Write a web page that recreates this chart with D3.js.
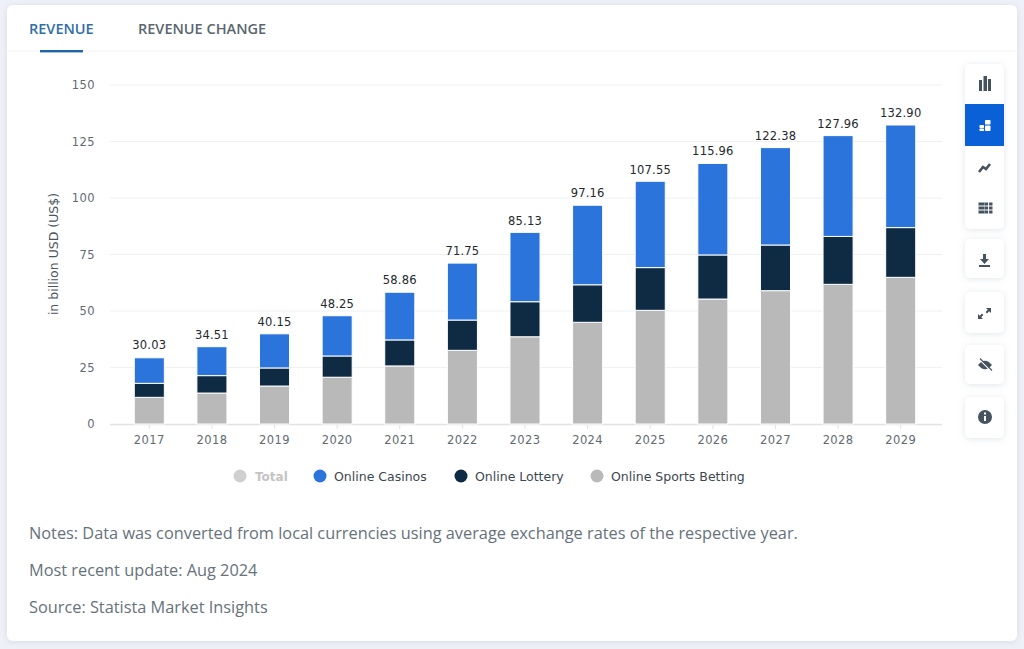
<!DOCTYPE html>
<html><head><meta charset="utf-8">
<script src="https://cdn.jsdelivr.net/npm/d3@7/dist/d3.min.js"></script>
<style>
html,body{margin:0;padding:0;background:#eef1f8;overflow:hidden}
svg{display:block}
</style></head><body><svg id="c" width="1024" height="649"></svg>
<script>
const years=["2017","2018","2019","2020","2021","2022","2023","2024","2025","2026","2027","2028","2029"];
const totals=[30.03,34.51,40.15,48.25,58.86,71.75,85.13,97.16,107.55,115.96,122.38,127.96,132.90];
const sports=[11.8,13.7,16.8,20.7,25.7,32.6,38.6,45,50.3,55.3,59,61.8,64.9];
const lottery=[6.2,7.7,8,9.4,11.5,13.4,15.5,16.6,18.9,19.5,20.2,21.2,22];
const casinos=[11.3,12.8,15.1,17.8,21.1,25.2,30.7,35.2,38.2,40.5,43.1,44.6,45.4];
const yTicks=[0,25,50,75,100,125,150];
const seriesNames=["Online Sports Betting","Online Lottery","Online Casinos"];
const seriesColors=["#b9b9b9","#0f2a43","#2a74dc"];
const legendItems=[["Total","#cfcfcf","#c4c4c4",240,255],["Online Casinos","#2a74dc","#3c4750",320,334],["Online Lottery","#0f2a43","#3c4750",461,475],["Online Sports Betting","#b9b9b9","#3c4750",597,611]];
const notes=["Notes: Data was converted from local currencies using average exchange rates of the respective year.","Most recent update: Aug 2024","Source: Statista Market Insights"];

const svg=d3.select("#c");
const chartFont="'DejaVu Sans',Verdana,sans-serif", uiFont="'Open Sans',sans-serif";

const defs=svg.append("defs");
const f=defs.append("filter").attr("id","sh").attr("x","-30%").attr("y","-30%").attr("width","160%").attr("height","160%");
f.append("feDropShadow").attr("dx",0).attr("dy",1).attr("stdDeviation",3).attr("flood-color","#8a97b0").attr("flood-opacity",.25);

svg.append("rect").attr("x",7).attr("y",5).attr("width",1010).attr("height",636).attr("rx",6).attr("fill","#fff").attr("filter","url(#sh)");

// tabs
svg.append("line").attr("x1",7).attr("x2",1017).attr("y1",51).attr("y2",51).attr("stroke","#f3f4f6");
svg.append("text").attr("x",29).attr("y",34).attr("font-family",uiFont).attr("font-size",14.5).attr("font-weight",600).attr("fill","#2f6fa8").text("REVENUE");
svg.append("text").attr("x",138).attr("y",34).attr("font-family",uiFont).attr("font-size",14.5).attr("font-weight",600).attr("fill","#5a6670").text("REVENUE CHANGE");
svg.append("rect").attr("x",40).attr("y",50).attr("width",43).attr("height",2.4).attr("fill","#1f63ad");

// scales
const x=d3.scaleBand().domain(years).range([118,932]).paddingInner(.52).paddingOuter(.26);
const y=d3.scaleLinear().domain([0,150]).range([424,85]);

// grid
svg.append("g").selectAll("line").data(yTicks.filter(d=>d>0)).join("line")
 .attr("x1",110).attr("x2",942).attr("y1",d=>y(d)).attr("y2",d=>y(d)).attr("stroke","#eef0f2").attr("stroke-width",1);

// axes
const gy=svg.append("g").attr("transform","translate(110,0)").call(d3.axisLeft(y).tickValues(yTicks).tickSize(0).tickPadding(15));
gy.select(".domain").remove();
gy.selectAll("text").attr("font-family",chartFont).attr("font-size",11.5).attr("fill","#5f6a72").attr("letter-spacing",.4);

const gx=svg.append("g").attr("transform","translate(0,424)").call(d3.axisBottom(x).tickSize(5).tickPadding(7));
gx.select(".domain").attr("d","M110,0.5H942").attr("stroke","#dfe3e7").attr("stroke-width",1.4);
gx.selectAll("line").attr("stroke","#dfe3e7");
gx.selectAll("text").attr("font-family",chartFont).attr("font-size",11.5).attr("fill","#5f6a72").attr("letter-spacing",.4);

svg.append("text").attr("transform","translate(58,254) rotate(-90)").attr("text-anchor","middle")
 .attr("font-family",chartFont).attr("font-size",12.5).attr("fill","#4a555e").text("in billion USD (US$)");

// stacks
const rows=years.map((yr,i)=>({year:yr,[seriesNames[0]]:sports[i],[seriesNames[1]]:lottery[i],[seriesNames[2]]:casinos[i]}));
const stack=d3.stack().keys(seriesNames)(rows);
svg.append("g").selectAll("g").data(stack).join("g").attr("fill",(d,i)=>seriesColors[i])
 .selectAll("rect").data(d=>d).join("rect")
 .attr("x",d=>x(d.data.year)).attr("width",x.bandwidth())
 .attr("y",d=>y(d[1])).attr("height",d=>y(d[0])-y(d[1]))
 .attr("stroke","#fff").attr("stroke-width",1);

// total labels
svg.append("g").selectAll("text").data(years).join("text")
 .attr("x",d=>x(d)+x.bandwidth()/2).attr("y",(d,i)=>y(totals[i])-7)
 .attr("text-anchor","middle").attr("font-family",chartFont).attr("font-size",11.5).attr("letter-spacing",.2).attr("fill","#23292e")
 .text((d,i)=>totals[i].toFixed(2));

// legend
const lg=svg.append("g").selectAll("g").data(legendItems).join("g");
lg.append("circle").attr("cx",d=>d[3]).attr("cy",476).attr("r",6.5).attr("fill",d=>d[1]);
lg.append("text").attr("x",d=>d[4]).attr("y",481).attr("font-family",chartFont).attr("font-size",d=>d[0]==="Total"?12:12.5).attr("fill",d=>d[2]).attr("font-weight",d=>d[0]==="Total"?"bold":"normal").text(d=>d[0]);

// notes
svg.append("g").selectAll("text").data(notes).join("text")
 .attr("x",29).attr("y",(d,i)=>539+i*37).attr("font-family",uiFont).attr("font-size",16.32).attr("fill","#66727c").text(d=>d);

// toolbar
const ink="#45535f";
const tb=svg.append("g");
[[64,165],[239,39],[292,41],[345,39],[397,41]].forEach(([t,h])=>{
  tb.append("rect").attr("x",965).attr("y",t).attr("width",39).attr("height",h).attr("rx",5).attr("fill","#fff").attr("filter","url(#sh)");
});
tb.append("rect").attr("x",965).attr("y",104).attr("width",39).attr("height",42).attr("fill","#0a60d6");
// bar icon
[[979,80,3,11],[983.5,76,3.5,15],[988,79,3,12]].forEach(r=>tb.append("rect").attr("x",r[0]).attr("y",r[1]).attr("width",r[2]).attr("height",r[3]).attr("fill",ink));
// stacked icon
[[979.5,125,4.5,3],[979.5,128.5,4.5,2.5],[985,120,5.5,4.5],[985,125.5,5.5,5.5]].forEach(r=>tb.append("rect").attr("x",r[0]).attr("y",r[1]).attr("width",r[2]).attr("height",r[3]).attr("rx",.7).attr("fill","#fff"));
// trend icon
tb.append("path").attr("d","M979 172L983 167L986 169L990 164").attr("fill","none").attr("stroke",ink).attr("stroke-width",2.6);
// table icon
[0,1,2].forEach(r=>[0,1,2].forEach(c=>{tb.append("rect").attr("x",978.5+c*4.4+(c?1.8:0)).attr("y",202.5+r*4).attr("width",c===0?6:3.4).attr("height",3).attr("fill",ink);}));
// download icon
tb.append("path").attr("d","M983 254h3v5h3l-4.5 5l-4.5-5h3z").attr("fill",ink);
tb.append("rect").attr("x",979).attr("y",265).attr("width",11).attr("height",2).attr("fill",ink);
// expand icon
tb.append("path").attr("d","M986 308h5v5l-1.8-1.8l-2.2 2.2l-1.4-1.4l2.2-2.2zM983 319h-5v-5l1.8 1.8l2.2-2.2l1.4 1.4l-2.2 2.2z").attr("fill",ink);
// eye-off icon
tb.append("path").attr("d","M978 365q7-8.500 14 0q-7 8.500-14 0z").attr("fill",ink);
tb.append("line").attr("x1",979).attr("y1",359).attr("x2",991).attr("y2",371).attr("stroke","#fff").attr("stroke-width",1.2);
tb.append("line").attr("x1",980).attr("y1",358.500).attr("x2",992).attr("y2",370.500).attr("stroke",ink).attr("stroke-width",1.1);
// info icon
tb.append("circle").attr("cx",985).attr("cy",417).attr("r",7).attr("fill",ink);
tb.append("rect").attr("x",984).attr("y",416).attr("width",2).attr("height",5).attr("fill","#fff");
tb.append("rect").attr("x",984).attr("y",412.500).attr("width",2).attr("height",2).attr("fill","#fff");
</script></body></html>
